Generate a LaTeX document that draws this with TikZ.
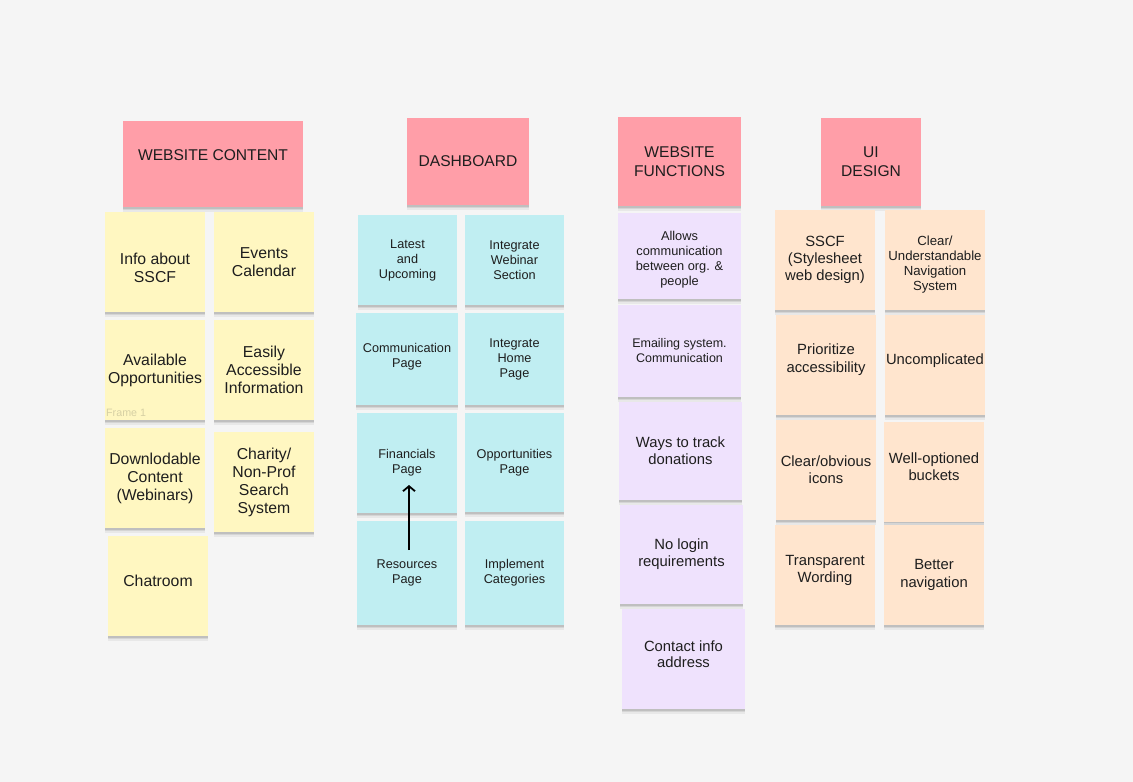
\documentclass[tikz,border=0pt]{standalone}
\usepackage{fontspec}
\setmainfont{Liberation Sans}
\usetikzlibrary{arrows.meta,shadows}
\definecolor{canvas}{HTML}{F5F5F5}
\definecolor{notepink}{HTML}{FF9EA8}
\definecolor{noteyellow}{HTML}{FFF7C1}
\definecolor{noteblue}{HTML}{C0EEF2}
\definecolor{notepurple}{HTML}{EFE2FD}
\definecolor{noteorange}{HTML}{FFE5CE}
\definecolor{inkdark}{HTML}{1E1E1E}
\definecolor{framelabel}{HTML}{D6D0A4}
\begin{document}
\begin{tikzpicture}[x=1pt, y=-1pt,
		note/.style={rectangle, inner sep=0pt, align=center, text=inkdark,
			drop shadow={shadow xshift=0pt, shadow yshift=-4.5pt, opacity=.05, fill=black},
			drop shadow={shadow xshift=0pt, shadow yshift=-3pt, opacity=.08, fill=black},
			drop shadow={shadow xshift=0pt, shadow yshift=-1.5pt, opacity=.1, fill=black}},
		notesize/.style 2 args={minimum width=#1pt, minimum height=#2pt},
		header/.style={note, fill=notepink, font=\fontsize{15.6}{19}\selectfont},
		yellownote/.style={note, fill=noteyellow, notesize={100}{100}, font=\fontsize{15.8}{18}\selectfont},
		bluenote/.style={note, fill=noteblue, font=\fontsize{12.7}{15}\selectfont},
		purplenote/.style={note, fill=notepurple, font=\fontsize{14.8}{16.7}\selectfont},
		orangenote/.style={note, fill=noteorange, notesize={100}{100}, font=\fontsize{14.8}{17.3}\selectfont},
		flow/.style={line width=1.8pt, -{Straight Barb[length=5pt, width=12pt]}}
	]
	\useasboundingbox[fill=canvas] (0,0) rectangle (1133,782);

	\node[header, notesize={180}{86}, text depth=18pt] (hcontent) at (213,164) {WEBSITE CONTENT};
	\node[header, notesize={122}{87}] (hdash) at (468,161.5) {DASHBOARD};
	\node[header, notesize={123}{89}] (hfunc) at (679.5,161.5) {WEBSITE\\FUNCTIONS};
	\node[header, notesize={100}{88}] (hui) at (871,162) {UI\\DESIGN};

	\node[yellownote] (info) at (155,262) {\rule{0pt}{23pt}Info about\\SSCF};
	\node[yellownote] (events) at (264,262) {Events\\Calendar};
	\node[yellownote] (avail) at (155,370) {Available\\Opportunities};
	\node[yellownote] (easy) at (264,370) {Easily\\Accessible\\Information};
	\node[yellownote] (download) at (155,478) {Downlodable\\Content\\(Webinars)};
	\node[yellownote] (charity) at (264,482) {Charity/\\Non-Prof\\Search\\System};
	\node[yellownote] (chat) at (158,586) {Chatroom\\[-8pt]};
	\node[anchor=west, inner sep=0pt, text=framelabel, font=\fontsize{10.7}{12}\selectfont] (framename) at (106,413) {Frame 1};

	\node[bluenote, notesize={99}{90}] (latest) at (407.5,260) {Latest\\and\\Upcoming};
	\node[bluenote, notesize={99}{90}] (webinar) at (514.5,260) {Integrate\\Webinar\\Section};
	\node[bluenote, notesize={102}{92}] (comm) at (407,359) {Communication\\Page\\[-7pt]};
	\node[bluenote, notesize={99}{92}] (home) at (514.5,359) {Integrate\\Home\\Page};
	\node[bluenote, notesize={100}{100}] (fin) at (407,463) {Financials\\Page};
	\node[bluenote, notesize={99}{99}] (opp) at (514.5,462.5) {Opportunities\\Page};
	\node[bluenote, notesize={100}{104}] (res) at (407,573) {Resources\\Page};
	\node[bluenote, notesize={99}{104}] (impl) at (514.5,573) {Implement\\Categories};
	\draw[flow] ([xshift=2pt, yshift=23pt]res.center) -- ([xshift=2pt, yshift=-22pt]fin.center);

	\node[purplenote, notesize={123}{86}, font=\fontsize{12.8}{15}\selectfont] (allows) at (679.5,256) {\rule{0pt}{17pt}Allows\\communication\\between org. \&\\people};
	\node[purplenote, notesize={123}{92}, font=\fontsize{12.5}{15}\selectfont] (email) at (679.5,351) {Emailing system.\\Communication};
	\node[purplenote, notesize={123}{98}] (track) at (680.5,451) {Ways to track\\donations};
	\node[purplenote, notesize={123}{99}] (nologin) at (681.5,554.5) {No login\\requirements};
	\node[purplenote, notesize={123}{100}] (contact) at (683.5,659) {Contact info\\address\\[-7pt]};

	\node[orangenote] (sscf) at (825,260) {SSCF\\(Stylesheet\\web design)};
	\node[orangenote, font=\fontsize{13.2}{15}\selectfont] (clear) at (935,260) {\rule{0pt}{19.5pt}Clear/\\Understandable\\Navigation\\System};
	\node[orangenote] (prior) at (826,365) {Prioritize\\accessibility\\[-3.3pt]};
	\node[orangenote] (uncomp) at (935,365) {Uncomplicated\\[-5.3pt]};
	\node[orangenote] (icons) at (826,470) {Clear/obvious\\icons};
	\node[orangenote] (buckets) at (934,471.5) {Well-optioned\\buckets\\[-7.3pt]};
	\node[orangenote] (transp) at (825,575) {Transparent\\Wording\\[-5.3pt]};
	\node[orangenote] (better) at (934,575) {Better\\navigation};
\end{tikzpicture}
\end{document}
